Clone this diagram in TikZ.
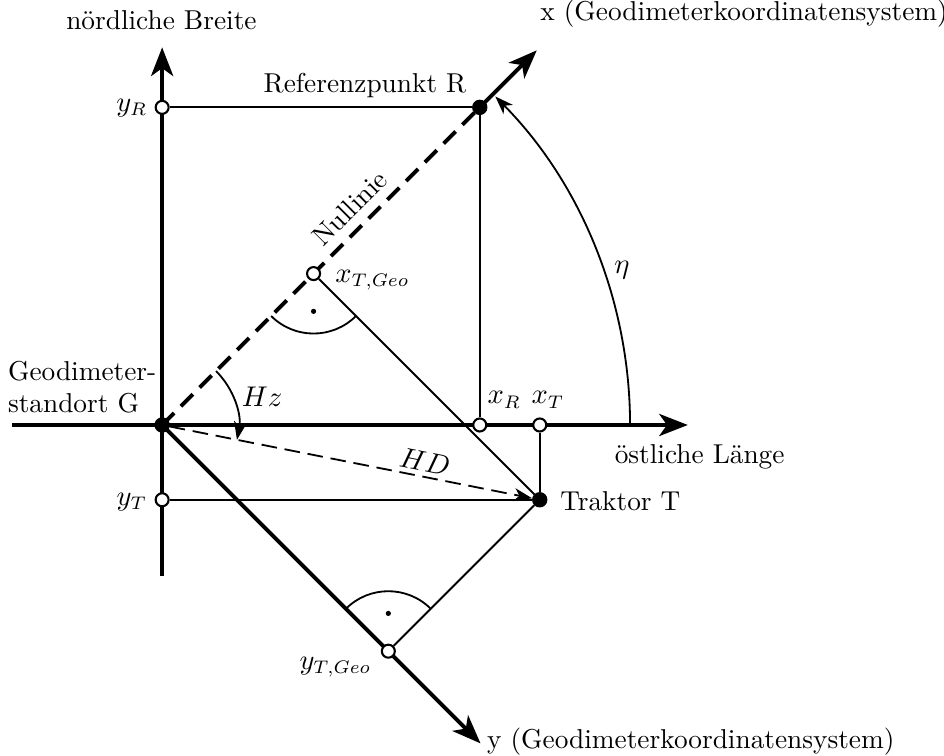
\documentclass[tikz,border=0pt]{standalone}
\usepackage{tikz}
\usetikzlibrary{arrows.meta,calc}
\tikzset{
  axis arrow/.style={
    line width=1.5pt, -{Stealth[length=11pt, width=8.5pt, inset=3pt]}
  },
  null line/.style={
    line width=1.5pt, dash pattern=on 6.5pt off 3.7pt
  },
  open dot/.style={
    circle, fill=white, draw=black, line width=0.8pt, inner sep=0pt, minimum size=5pt
  },
  full dot/.style={
    circle, fill=black, draw=black, inner sep=0pt, minimum size=5.5pt
  },
  thin line/.style={
    draw=black, line width=0.7pt
  },
  angle arrow/.style={
    line width=0.7pt, -{Stealth[length=7pt, width=5pt, inset=2pt]}
  },
  right dot/.style={
    circle, fill=black, inner sep=0pt, minimum size=2pt
  }
}

\begin{document}
\begin{tikzpicture}[font=\fontsize{10.5pt}{12.6pt}\selectfont]
  \useasboundingbox (-2.19,-4.47) rectangle (10.56,5.74);

  % ------------------------------------------------
  % Achsen: Nord/Ost und Geodimeterkoordinatensystem
  % ------------------------------------------------
  \coordinate (G0)    at ( 0.00, 0.00);
  \coordinate (westE) at (-2.03, 0.00);
  \coordinate (ostE)  at ( 7.10, 0.00);
  \coordinate (suedE) at ( 0.00,-2.04);
  \coordinate (nordE) at ( 0.00, 5.10);
  \coordinate (xE)    at ( 5.06, 5.06);
  \coordinate (yE)    at ( 4.30,-4.30);
  \coordinate (Rc)    at ( 4.29, 4.29);
  \coordinate (Tc)    at ( 5.10,-1.01);
  \coordinate (xTGc)  at ($(G0)!(Tc)!(xE)$);
  \coordinate (yTGc)  at ($(G0)!(Tc)!(yE)$);

  \draw[axis arrow] (westE) -- (ostE);
  \draw[axis arrow] (suedE) -- (nordE);
  \draw[axis arrow] (G0) -- (yE);
  \draw[null line]  (G0) -- (Rc);
  \draw[axis arrow] (Rc) -- (xE);

  % Winkel eta und Hz
  \draw[angle arrow] ([shift={(0:6.32)}]G0) arc[start angle=0, end angle=44.6, radius=6.32];
  \draw[angle arrow] ([shift={(45:1.03)}]G0) arc[start angle=45, end angle=-11.2, radius=1.03];

  % rechte Winkel
  \draw[thin line] ([shift={(225:0.81)}]xTGc) arc[start angle=225, end angle=315, radius=0.81];
  \draw[thin line] ([shift={(45:0.81)}]yTGc) arc[start angle=45, end angle=135, radius=0.81];
  \node[right dot] (xTGd) at ([yshift=-0.51cm]xTGc) {};
  \node[right dot] (yTGd) at ([yshift= 0.51cm]yTGc) {};

  % ------------------------------------------------
  % Punkte
  % ------------------------------------------------
  \node[full dot] (G)   at (G0) {};
  \node[full dot] (R)   at (Rc) {};
  \node[full dot] (T)   at (Tc) {};
  \node[open dot] (yR)  at (0.00, 4.29) {};
  \node[open dot] (xR)  at (4.29, 0.00) {};
  \node[open dot] (yT)  at (0.00,-1.01) {};
  \node[open dot] (xT)  at (5.10, 0.00) {};
  \node[open dot] (xTG) at (xTGc) {};
  \node[open dot] (yTG) at (yTGc) {};

  \draw[thin line] (yR)  -- (R);
  \draw[thin line] (R)   -- (xR);
  \draw[thin line] (yT)  -- (T);
  \draw[thin line] (xT)  -- (T);
  \draw[thin line] (xTG) -- (T);
  \draw[thin line] (yTG) -- (T);
  \draw[angle arrow, dash pattern=on 6pt off 3pt] (G) -- (T);

  % ------------------------------------------------
  % Beschriftungen
  % ------------------------------------------------
  \node (nordL)  at (-0.01, 5.47) {n\"ordliche Breite};
  \node (xL)     at ( 7.86, 5.56) {x (Geodimeterkoordinatensystem)};
  \node (RL)     at ( 2.74, 4.59) {Referenzpunkt R};
  \node (yRL)    at (-0.41, 4.28) {$y_R$};
  \node[rotate=45] (nullL) at (2.53, 2.93) {Nullinie};
  \node (xTGL)   at ( 2.84, 1.96) {$x_{T,Geo}$};
  \node (etaL)   at ( 6.21, 2.09) {$\eta$};
  \node[align=left] (GL) at (-1.08, 0.51) {Geodimeter-\\standort G};
  \node (HzL)    at ( 1.35, 0.38) {$Hz$};
  \node (xRL)    at ( 4.62, 0.34) {$x_R$};
  \node (xTL)    at ( 5.21, 0.34) {$x_T$};
  \node (ostL)   at ( 7.26,-0.43) {\"ostliche L\"ange};
  \node[rotate=-11.2] (HDL) at (3.55,-0.50) {$HD$};
  \node (yTL)    at (-0.41,-1.04) {$y_T$};
  \node (TL)     at ( 6.19,-1.03) {Traktor T};
  \node (yTGL)   at ( 2.34,-3.27) {$y_{T,Geo}$};
  \node (yL)     at ( 7.14,-4.28) {y (Geodimeterkoordinatensystem)};
\end{tikzpicture}
\end{document}
